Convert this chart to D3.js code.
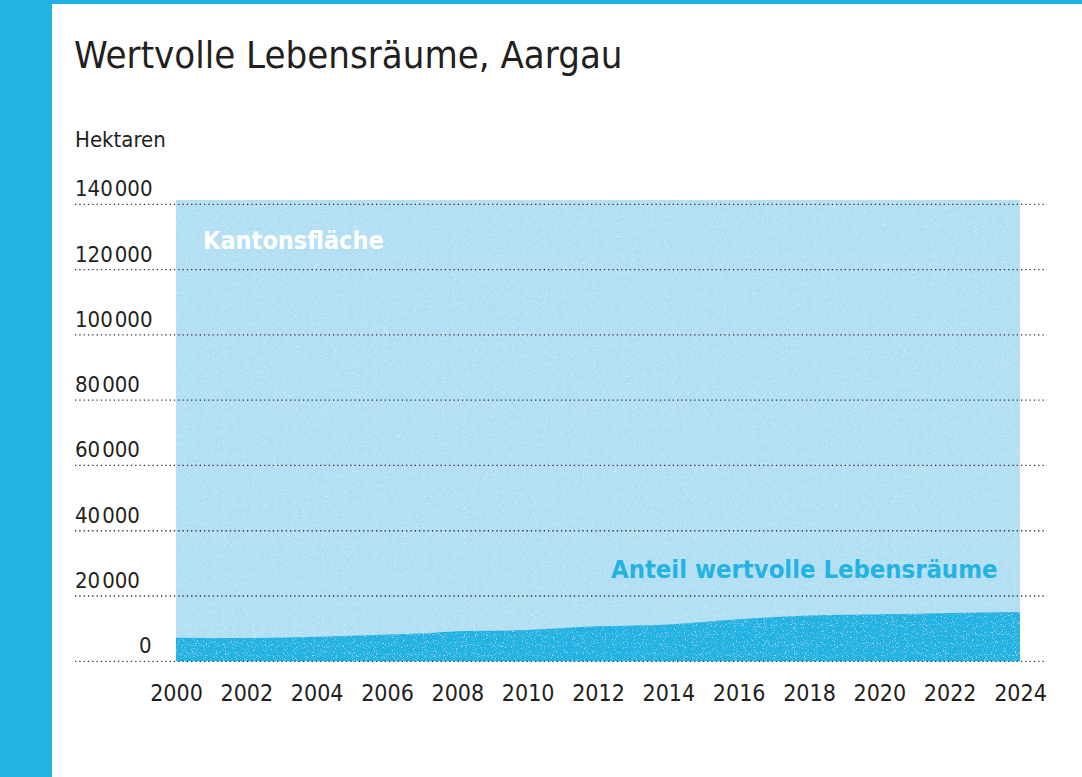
<!DOCTYPE html>
<html>
<head>
<meta charset="utf-8">
<script src="https://cdn.jsdelivr.net/npm/d3@7"></script>
<style>
  body { margin: 0; background: #fff; }
  svg text { font-family: "Liberation Sans Narrow", "DejaVu Sans Condensed", "Roboto", sans-serif; }
</style>
</head>
<body>
<script>
// data (hectares)
var years = [2000, 2002, 2004, 2006, 2007, 2008, 2010, 2012, 2014, 2016, 2018, 2020, 2022, 2024];
var lebensraum = [7200, 7100, 7500, 8200, 8500, 9200, 9600, 10700, 11300, 12900, 14000, 14400, 14800, 15100];
var kantonsflaeche = 141300;
var yTicks = [0, 20000, 40000, 60000, 80000, 100000, 120000, 140000];
var xTicks = [2000, 2002, 2004, 2006, 2008, 2010, 2012, 2014, 2016, 2018, 2020, 2022, 2024];

var svgWidth = 1082, svgHeight = 777;
var blue = "#23b3e3", lightBlue = "#b3dff3";

var svg = d3.select("body").append("svg")
  .attr("width", svgWidth)
  .attr("height", svgHeight);

// grain texture
var defs = svg.append("defs");
var f = defs.append("filter").attr("id", "grain").attr("x", 0).attr("y", 0).attr("width", "100%").attr("height", "100%");
f.append("feTurbulence").attr("type", "fractalNoise").attr("baseFrequency", 0.9).attr("numOctaves", 2).attr("seed", 3).attr("result", "noise");
f.append("feColorMatrix").attr("in", "noise").attr("type", "matrix")
  .attr("values", "0 0 0 0 1  0 0 0 0 1  0 0 0 0 1  0 0 0 2.2 -1.35").attr("result", "speck");
f.append("feComposite").attr("in", "speck").attr("in2", "SourceGraphic").attr("operator", "atop");

// frame
svg.append("rect").attr("x", 0).attr("y", 0).attr("width", svgWidth).attr("height", 4).attr("fill", blue);
svg.append("rect").attr("x", 0).attr("y", 0).attr("width", 52).attr("height", svgHeight).attr("fill", blue);

svg.append("text")
  .attr("x", 74).attr("y", 68)
  .attr("font-size", 38).attr("fill", "#231f20")
  .text("Wertvolle Lebensräume, Aargau");

svg.append("text")
  .attr("x", 75).attr("y", 147)
  .attr("font-size", 22).attr("fill", "#231f20")
  .text("Hektaren");

var x = d3.scaleLinear().domain([2000, 2024]).range([176, 1020]);
var y = d3.scaleLinear().domain([0, 140000]).range([661.3, 204.3]);

var g = svg.append("g");

// areas
var area = d3.area()
  .x(function(d) { return x(d.year); })
  .y0(y(0))
  .y1(function(d) { return y(d.value); })
  .curve(d3.curveMonotoneX);

var total = [{year: 2000, value: kantonsflaeche}, {year: 2024, value: kantonsflaeche}];
var part = years.map(function(yr, i) { return {year: yr, value: lebensraum[i]}; });

g.append("path").datum(total).attr("d", area).attr("fill", lightBlue).attr("filter", "url(#grain)");
g.append("path").datum(part).attr("d", area).attr("fill", blue).attr("filter", "url(#grain)");

// dotted grid lines on top
g.selectAll(".grid").data(yTicks).enter().append("line")
  .attr("x1", 75).attr("x2", 1047)
  .attr("y1", function(d) { return y(d); })
  .attr("y2", function(d) { return y(d); })
  .attr("stroke", "#333")
  .attr("stroke-width", 1.3)
  .attr("stroke-dasharray", "1.3,3");

// y labels sit above the lines
var fmt = function(d) { return d >= 1000 ? d3.format("d")(Math.floor(d / 1000)) + "\u200A000" : String(d); };
g.selectAll(".ylab").data(yTicks).enter().append("text")
  .attr("x", function(d) { return d === 0 ? 139 : 75; })
  .attr("y", function(d) { return y(d) - 8; })
  .attr("font-size", 22).attr("fill", "#231f20")
  .text(fmt);

// x axis labels
var xAxis = d3.axisBottom(x).tickValues(xTicks).tickSize(0).tickFormat(d3.format("d"));
var xg = g.append("g").attr("transform", "translate(0," + 682 + ")").call(xAxis);
xg.select(".domain").remove();
xg.selectAll("text").attr("font-size", 23).attr("fill", "#231f20")
  .style("font-family", "'Liberation Sans Narrow', 'DejaVu Sans Condensed', sans-serif");

// series labels
g.append("text")
  .attr("x", 203).attr("y", 249)
  .attr("font-size", 25).attr("font-weight", "bold").attr("fill", "#fff")
  .text("Kantonsfläche");

g.append("text")
  .attr("x", 611).attr("y", 578)
  .attr("font-size", 25.4).attr("font-weight", "bold").attr("fill", blue)
  .text("Anteil wertvolle Lebensräume");
</script>
</body>
</html>
